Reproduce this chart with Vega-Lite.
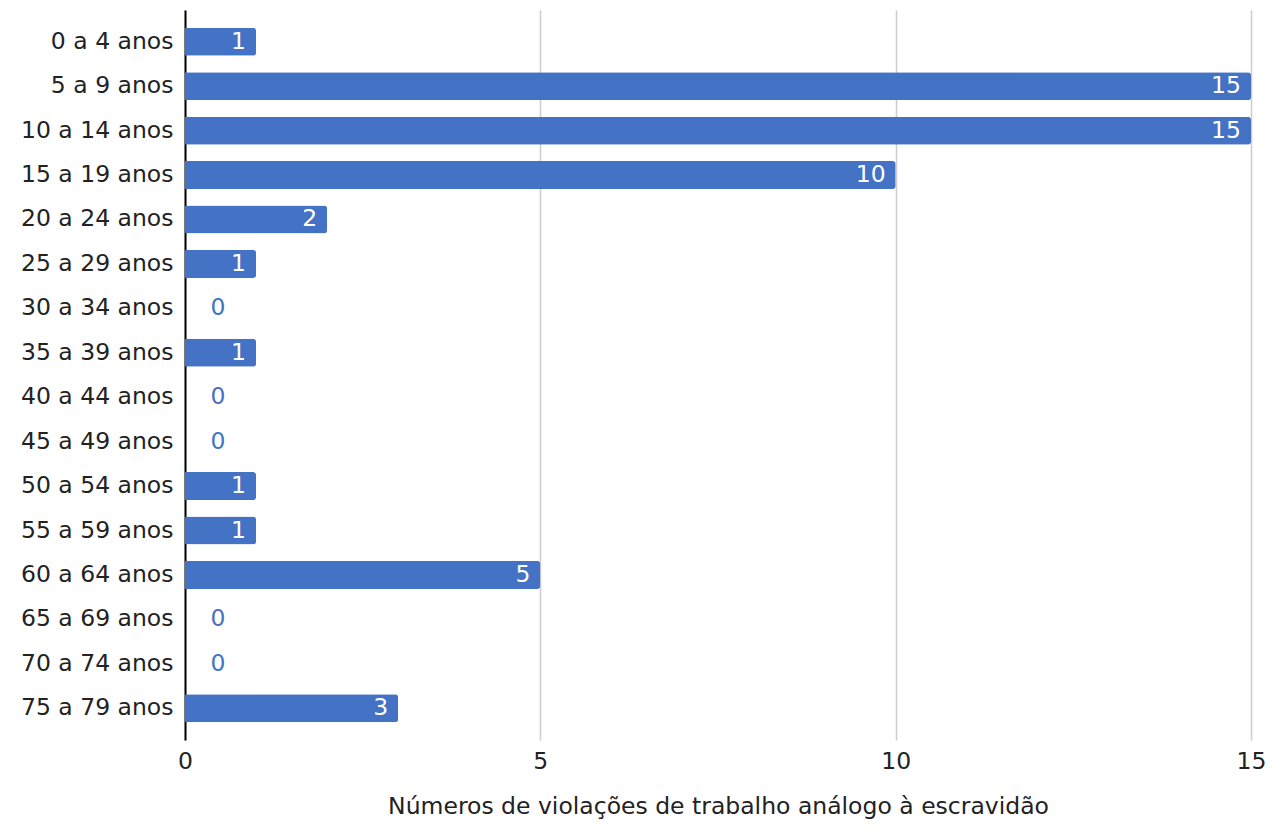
{
  "$schema": "https://vega.github.io/schema/vega-lite/v6.json",
  "width": 1066,
  "height": 730,
  "autosize": {"type": "none"},
  "padding": {"left": 185, "top": 10, "right": 22, "bottom": 89},
  "background": "white",
  "config": {
    "font": "DejaVu Sans",
    "view": {"stroke": null}
  },
  "data": {
    "values": [
      {"faixa": "0 a 4 anos", "n": 1},
      {"faixa": "5 a 9 anos", "n": 15},
      {"faixa": "10 a 14 anos", "n": 15},
      {"faixa": "15 a 19 anos", "n": 10},
      {"faixa": "20 a 24 anos", "n": 2},
      {"faixa": "25 a 29 anos", "n": 1},
      {"faixa": "30 a 34 anos", "n": 0},
      {"faixa": "35 a 39 anos", "n": 1},
      {"faixa": "40 a 44 anos", "n": 0},
      {"faixa": "45 a 49 anos", "n": 0},
      {"faixa": "50 a 54 anos", "n": 1},
      {"faixa": "55 a 59 anos", "n": 1},
      {"faixa": "60 a 64 anos", "n": 5},
      {"faixa": "65 a 69 anos", "n": 0},
      {"faixa": "70 a 74 anos", "n": 0},
      {"faixa": "75 a 79 anos", "n": 3}
    ]
  },
  "encoding": {
    "y": {
      "field": "faixa",
      "type": "nominal",
      "sort": null,
      "scale": {"paddingInner": 0.37, "paddingOuter": 0.4},
      "axis": {
        "title": null,
        "ticks": false,
        "domainColor": "#000000",
        "domainWidth": 2,
        "labelFontSize": 23.5,
        "labelColor": "#222222",
        "labelPadding": 12
      }
    },
    "x": {
      "field": "n",
      "type": "quantitative",
      "scale": {"domain": [0, 15], "nice": false},
      "axis": {
        "values": [0, 5, 10, 15],
        "title": "Números de violações de trabalho análogo à escravidão",
        "titleFontSize": 23.5,
        "titleFontWeight": "normal",
        "titleColor": "#222222",
        "titlePadding": 22,
        "labelFontSize": 23.5,
        "labelColor": "#222222",
        "labelPadding": 9,
        "labelFlush": false,
        "ticks": false,
        "domain": false,
        "grid": true,
        "gridColor": "#cccccc",
        "gridWidth": 1.5
      }
    }
  },
  "layer": [
    {
      "mark": {"type": "bar", "color": "#4472c4", "cornerRadiusEnd": 3}
    },
    {
      "transform": [{"filter": "datum.n > 0"}],
      "mark": {"type": "text", "align": "right", "dx": -10, "fontSize": 23.5, "color": "white", "baseline": "middle"},
      "encoding": {"text": {"field": "n", "type": "quantitative"}}
    },
    {
      "transform": [{"filter": "datum.n == 0"}],
      "mark": {"type": "text", "align": "center", "dx": 33, "fontSize": 23.5, "color": "#4472c4", "baseline": "middle"},
      "encoding": {"text": {"field": "n", "type": "quantitative"}}
    }
  ]
}
